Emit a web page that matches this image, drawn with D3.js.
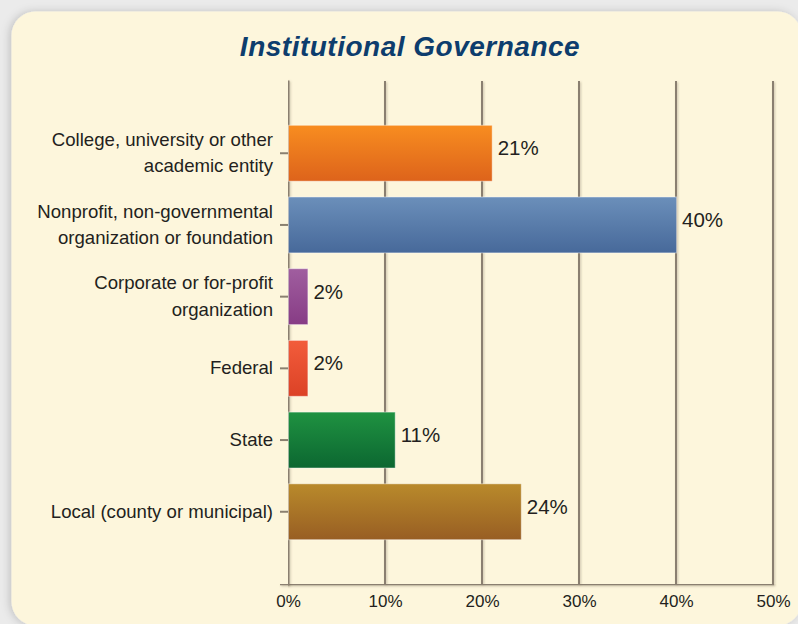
<!DOCTYPE html>
<html>
<head>
<meta charset="utf-8">
<script src="https://cdn.jsdelivr.net/npm/d3@7"></script>
<style>
  html, body { margin: 0; padding: 0; background: #ebebeb; }
  svg { display: block; }
</style>
</head>
<body>
<svg id="chart" width="798" height="624"></svg>
<script>
// ---- data ----
const title = "Institutional Governance";
const categories = [
  "College, university or other\nacademic entity",
  "Nonprofit, non-governmental\norganization or foundation",
  "Corporate or for-profit\norganization",
  "Federal",
  "State",
  "Local (county or municipal)"
];
const values = [21, 40, 2, 2, 11, 24];
const xTicks = [0, 10, 20, 30, 40, 50];
const xTickLabels = ["0%", "10%", "20%", "30%", "40%", "50%"];
const valueLabels = ["21%", "40%", "2%", "2%", "11%", "24%"];

// ---- styles ----
const palette = [
  ["#f88d20", "#dd631b"],
  ["#6b8fba", "#47699a"],
  ["#a05e9f", "#873c85"],
  ["#f25c3b", "#dc4226"],
  ["#1f9241", "#0c6731"],
  ["#b98a2b", "#985e23"]
];

const svg = d3.select("#chart");
const defs = svg.append("defs");

const sh = defs.append("filter").attr("id", "panelShadow")
  .attr("x", "-10%").attr("y", "-10%").attr("width", "120%").attr("height", "120%");
sh.append("feDropShadow").attr("dx", -2).attr("dy", 0).attr("stdDeviation", 4)
  .attr("flood-color", "#000").attr("flood-opacity", 0.18);

const lsh = defs.append("filter").attr("id", "lineShadow")
  .attr("filterUnits", "userSpaceOnUse")
  .attr("x", 0).attr("y", 0).attr("width", 798).attr("height", 624);
lsh.append("feDropShadow").attr("dx", 1).attr("dy", 1).attr("stdDeviation", 0.8)
  .attr("flood-color", "#6b5f4a").attr("flood-opacity", 0.35);

palette.forEach((c, i) => {
  const g = defs.append("linearGradient").attr("id", "grad" + i)
    .attr("x1", 0).attr("y1", 0).attr("x2", 0).attr("y2", 1);
  g.append("stop").attr("offset", "0%").attr("stop-color", c[0]);
  g.append("stop").attr("offset", "100%").attr("stop-color", c[1]);
});

// panel
svg.append("rect")
  .attr("x", 11.5).attr("y", 11.5).attr("width", 790).attr("height", 614)
  .attr("rx", 24).attr("ry", 24)
  .attr("fill", "#fdf6dc")
  .attr("filter", "url(#panelShadow)");

// title
svg.append("text")
  .attr("x", 410).attr("y", 56)
  .attr("text-anchor", "middle")
  .attr("font-family", "Liberation Sans, Arial, sans-serif")
  .attr("font-size", 28)
  .attr("font-weight", "bold")
  .attr("font-style", "italic")
  .attr("letter-spacing", 0.5)
  .attr("fill", "#0d3d6d")
  .text(title);

// scales
const x = d3.scaleLinear().domain([0, 50]).range([288, 773]);
const y = d3.scaleBand().domain(categories).range([81, 584])
  .paddingInner(0.22).paddingOuter(0.6175);

const gridColor = "#8a7f6f";

// gridlines
svg.append("g").attr("filter", "url(#lineShadow)").selectAll("line")
  .data(xTicks.filter(t => t > 0))
  .join("line")
  .attr("x1", d => x(d)).attr("x2", d => x(d))
  .attr("y1", 81).attr("y2", 584)
  .attr("stroke", gridColor).attr("stroke-width", 2);

// bottom axis
const xAxis = d3.axisBottom(x).tickValues(xTicks)
  .tickFormat((d, i) => xTickLabels[i]).tickSize(0).tickPadding(11);
const gx = svg.append("g").attr("transform", "translate(0,584)").call(xAxis);
gx.select(".domain").remove();
gx.append("g").attr("filter", "url(#lineShadow)")
  .append("line").attr("x1", 280).attr("x2", x(50) + 1).attr("y1", 0).attr("y2", 0)
  .attr("stroke", gridColor).attr("stroke-width", 2.5);
gx.selectAll(".tick text")
  .attr("font-family", "Liberation Sans, Arial, sans-serif")
  .attr("font-size", 17)
  .attr("fill", "#231f20")
  .attr("dy", null)
  .attr("y", 23);

// left axis
const yAxis = d3.axisLeft(y).tickSize(8).tickSizeOuter(8).tickFormat("");
const gy = svg.append("g").attr("transform", "translate(288,0)").call(yAxis);
gy.select(".domain").attr("stroke", gridColor).attr("stroke-width", 2)
  .attr("filter", "url(#lineShadow)");
gy.selectAll(".tick line").attr("stroke", "#8a8070").attr("stroke-width", 2);

// category labels
const lineH = 26.5;
svg.append("g").selectAll("text")
  .data(categories)
  .join("text")
  .attr("text-anchor", "end")
  .attr("font-family", "Liberation Sans, Arial, sans-serif")
  .attr("font-size", 18.6)
  .attr("fill", "#231f20")
  .each(function (d) {
    const lines = d.split("\n");
    const cy = y(d) + y.bandwidth() / 2;
    const t = d3.select(this);
    lines.forEach((ln, i) => {
      t.append("tspan")
        .attr("x", 273)
        .attr("y", cy - (lines.length - 1) * lineH / 2 + 6 + i * lineH)
        .text(ln);
    });
  });

// bars
svg.append("g").selectAll("rect")
  .data(values)
  .join("rect")
  .attr("x", x(0) + 0.5)
  .attr("y", (d, i) => y(categories[i]))
  .attr("width", d => x(d) - x(0))
  .attr("height", y.bandwidth())
  .attr("fill", (d, i) => "url(#grad" + i + ")")
  .attr("stroke", "rgba(255,255,255,0.45)")
  .attr("stroke-width", 1);

// value labels
svg.append("g").selectAll("text")
  .data(values)
  .join("text")
  .attr("x", d => x(d) + 6)
  .attr("y", (d, i) => y(categories[i]) + y.bandwidth() / 2 + 2)
  .attr("font-family", "Liberation Sans, Arial, sans-serif")
  .attr("font-size", 20.5)
  .attr("fill", "#231f20")
  .text((d, i) => valueLabels[i]);
</script>
</body>
</html>
